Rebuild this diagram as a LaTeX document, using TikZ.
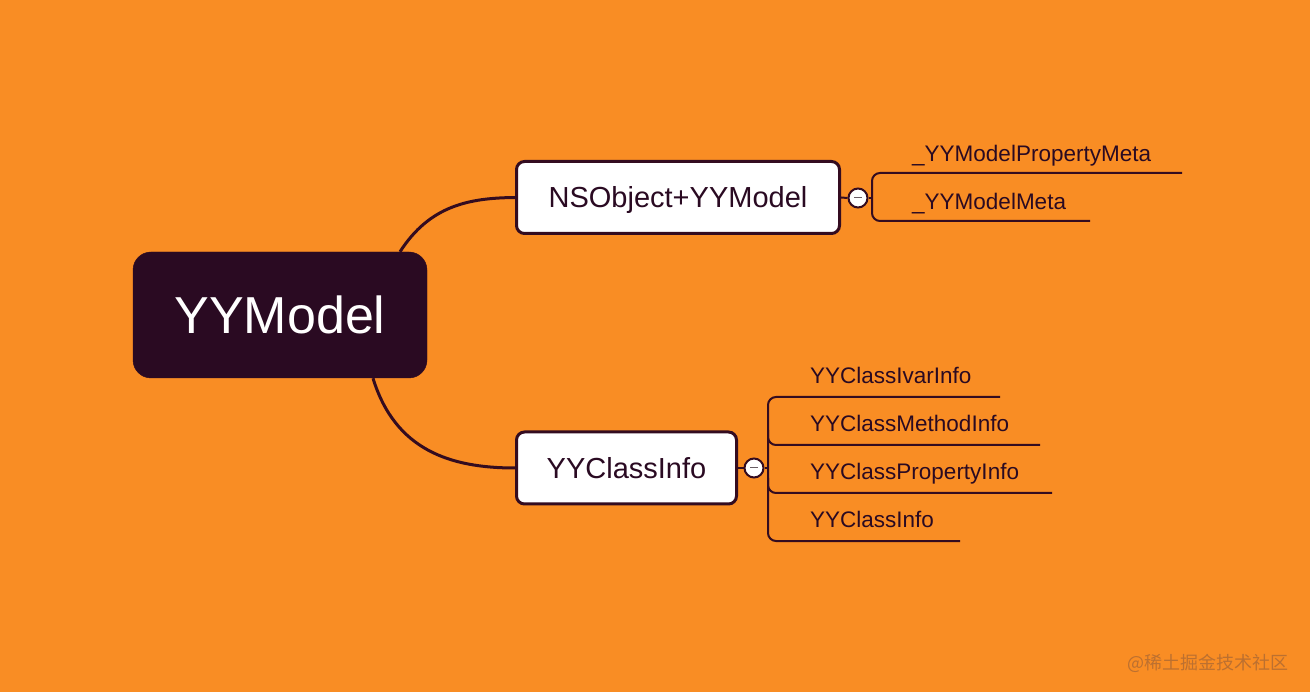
\documentclass[tikz,border=0pt]{standalone}
\usepackage{fontspec}
\setmainfont{Liberation Sans}
\newfontfamily\cjk{Noto Sans CJK SC}
\usetikzlibrary{calc}
\definecolor{bg}{RGB}{249,141,36}
\definecolor{deep}{RGB}{42,10,34}
\definecolor{ink}{RGB}{52,12,32}
\definecolor{wm}{RGB}{188,112,48}
\begin{document}
\begin{tikzpicture}[x=1pt,y=-1pt,
  rootbox/.style={draw=deep,fill=deep,rounded corners=18pt,minimum width=294pt,minimum height=126pt,
    text=white,font=\fontsize{52}{52}\selectfont,text height=37.4pt,text depth=0pt,inner sep=0pt},
  midbox/.style={draw=ink,fill=white,line width=3pt,rounded corners=8pt,minimum height=72pt,
    text=deep,font=\fontsize{29}{29}\selectfont,text height=20.9pt,text depth=0pt,inner sep=0pt},
  leaf/.style={anchor=base west,text=deep,font=\fontsize{22.5}{22.5}\selectfont,inner sep=0pt},
  conn/.style={draw=ink,line width=3pt},
  br/.style={draw=ink,line width=2pt,rounded corners=8pt},
  toggle/.style={circle,draw=ink,fill=white,line width=2pt,minimum size=19pt,inner sep=0pt},
]
\useasboundingbox (0,0) rectangle (1310,692);
\fill[bg] (0,0) rectangle (1310,692);

% nodes
\node[rootbox] (root) at (280,315) {YYModel};
\node[midbox,minimum width=323pt] (ns) at (678,197.5) {NSObject+YYModel};
\node[midbox,minimum width=220pt] (ci) at (626.5,468) {YYClassInfo};

% main connectors
\draw[conn] ([xshift=120pt]root.north) .. controls (430,205) and (470,198) .. (ns.west);
\draw[conn] ([xshift=93pt]root.south) .. controls (395,450) and (450,468) .. (ci.west);

% toggles
\node[toggle] (t1) at (858,198) {};
\node[toggle] (t2) at (754,468) {};
\draw[gray!70!ink,line width=1pt] ([xshift=-4pt]t1.center) -- ([xshift=4pt]t1.center);
\draw[gray!70!ink,line width=1pt] ([xshift=-4pt]t2.center) -- ([xshift=4pt]t2.center);
\draw[ink,line width=2pt] (ns.east) -- (t1.west);
\draw[ink,line width=2pt] (ci.east) -- (t2.west);

% bracket 1
\coordinate (b1) at (872,198);
\draw[ink,line width=2pt] (t1.east) -- (b1);
\draw[br] (1182,173) -- (872,173) -- (872,221) -- (1090,221);
\node[leaf] (l1) at (912,162) {\_YYModelPropertyMeta};
\node[leaf] (l2) at (912,210) {\_YYModelMeta};

% bracket 2
\coordinate (b2) at (768,468);
\draw[ink,line width=2pt] (t2.east) -- (b2);
\draw[br] (1000,397) -- (768,397) -- (768,541) -- (960,541);
\draw[br] (768,430) -- (768,445) -- (1040,445);
\draw[br] (768,478) -- (768,493) -- (1052,493);
\node[leaf] (m1) at (810,384) {YYClassIvarInfo};
\node[leaf] (m2) at (810,432) {YYClassMethodInfo};
\node[leaf] (m3) at (810,479) {YYClassPropertyInfo};
\node[leaf] (m4) at (810,527) {YYClassInfo};

% watermark
\node[anchor=west,text=wm,font=\cjk\fontsize{18}{18}\selectfont,inner sep=0pt] (wmk) at (1127,663) {@稀土掘金技术社区};
\end{tikzpicture}
\end{document}
